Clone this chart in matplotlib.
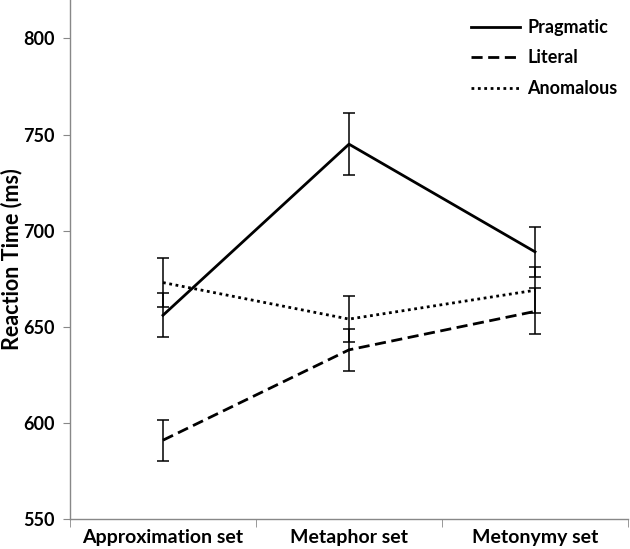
import numpy as np
import matplotlib.pyplot as plt

plt.rcParams['font.family'] = ['Lato', 'DejaVu Sans']
plt.rcParams['font.weight'] = 'bold'

# condition sets on the x axis
categories = ['Approximation set', 'Metaphor set', 'Metonymy set']

# mean reaction times (ms) and error bar half-widths
pragmatic = [656, 745, 689]
pragmatic_err = [11.5, 16.3, 13]
literal = [591, 638, 658]
literal_err = [10.6, 11, 12]
anomalous = [673, 654, 669]
anomalous_err = [12.6, 12, 12]

fig = plt.figure(figsize=(6.3, 5.49), dpi=100)
ax = fig.add_axes([70/630, 30/549, 558/630, 519/549])

x = np.arange(len(categories))
series = [
    ('Pragmatic', pragmatic, pragmatic_err, '-'),
    ('Literal', literal, literal_err, (0, (4, 2))),
    ('Anomalous', anomalous, anomalous_err, (0, (1, 1.3))),
]
for name, vals, err, ls in series:
    ax.plot(x, vals, color='black', lw=2, ls=ls, label=name)
    ax.errorbar(x, vals, yerr=err, fmt='none', ecolor='black', elinewidth=1.1,
                capsize=4, capthick=1.1)

ax.set_xlim(-0.5, 2.5)
ax.set_ylim(550, 820)
ax.set_yticks([550, 600, 650, 700, 750, 800])
ax.set_ylabel('Reaction Time (ms)', fontsize=15.5, fontweight='bold')
ax.yaxis.set_label_coords(-48/558, 0.5)

ax.set_xticks(x)
ax.set_xticklabels(categories, fontsize=14, fontweight='bold')
ax.set_xticks([-0.5, 0.5, 1.5, 2.5], minor=True)
ax.tick_params(axis='x', which='major', length=0, pad=7)
ax.tick_params(axis='x', which='minor', length=6, color='#888888', direction='out')
ax.tick_params(axis='y', length=5, color='#888888', labelsize=13, pad=6)

for side in ['top', 'right']:
    ax.spines[side].set_visible(False)
for side in ['left', 'bottom']:
    ax.spines[side].set_color('#888888')
    ax.spines[side].set_linewidth(1)

leg = ax.legend(loc='upper right', frameon=False, fontsize=13, handlelength=2.7,
                labelspacing=0.75, bbox_to_anchor=(1.01, 0.995), handletextpad=0.4)
for t in leg.get_texts():
    t.set_fontweight('bold')

fig.savefig('out.png', dpi=100)
